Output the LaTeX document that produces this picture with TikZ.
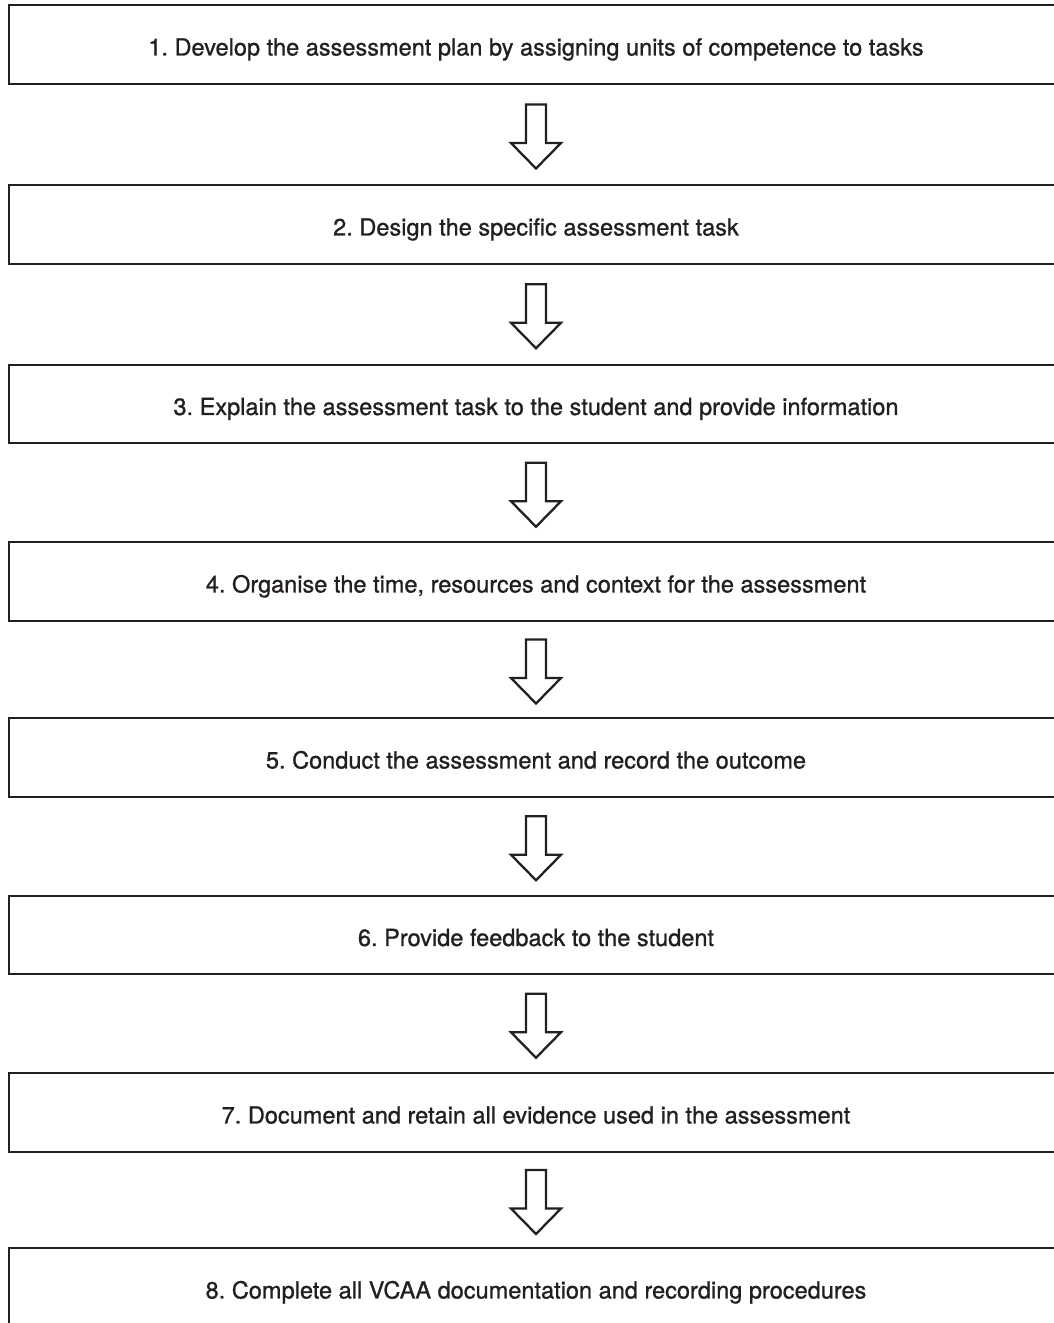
\documentclass[tikz,border=0pt]{standalone}
\usepackage{fontspec}
\setmainfont{TeX Gyre Heros}
\newfontfamily\stepfont{TeX Gyre Heros}[FakeBold=1]
\usetikzlibrary{calc}
\definecolor{inkgray}{RGB}{35,31,32}
\tikzset{
	stepbox/.style={draw=inkgray, line width=1.3pt, minimum width=21.08cm, minimum height=1.57cm, inner sep=0pt, text=inkgray, text height=12.5pt, text depth=0pt, font=\stepfont\fontsize{13.4}{16}\selectfont\frenchspacing},
	downarrow/.pic={
		\draw[draw=inkgray, line width=1.3pt, line join=miter]
		(-0.2,0.6) -- (0.2,0.6) -- (0.2,-0.17) -- (0.5,-0.17) -- (0,-0.68) -- (-0.5,-0.17) -- (-0.2,-0.17) -- cycle;
	}
}
\begin{document}
\begin{tikzpicture}
			\useasboundingbox (0,0) rectangle (21.06,-26.46);
			\node	(s1) at (10.72,-0.89) [stepbox] {1. Develop the assessment plan by assigning units of competence to tasks};
			\node	(s2) at (10.72,-4.49) [stepbox] {2. Design the specific assessment task};
			\node	(s3) at (10.72,-8.08) [stepbox] {3. Explain the assessment task to the student and provide information};
			\node	(s4) at (10.72,-11.63) [stepbox] {4. Organise the time, resources and context for the assessment};
			\node	(s5) at (10.72,-15.15) [stepbox] {5. Conduct the assessment and record the outcome};
			\node	(s6) at (10.72,-18.70) [stepbox] {6. Provide feedback to the student};
			\node	(s7) at (10.72,-22.25) [stepbox] {7. Document and retain all evidence used in the assessment};
			\node	(s8) at (10.72,-25.75) [stepbox] {8. Complete all VCAA documentation and recording procedures};
			
			\path 
			($(s1.south)!0.5!(s2.north)$) pic {downarrow}
			($(s2.south)!0.5!(s3.north)$) pic {downarrow}
			($(s3.south)!0.5!(s4.north)$) pic {downarrow}
			($(s4.south)!0.5!(s5.north)$) pic {downarrow}
			($(s5.south)!0.5!(s6.north)$) pic {downarrow}
			($(s6.south)!0.5!(s7.north)$) pic {downarrow}
			($(s7.south)!0.5!(s8.north)$) pic {downarrow}
			;
		\end{tikzpicture}
\end{document}
